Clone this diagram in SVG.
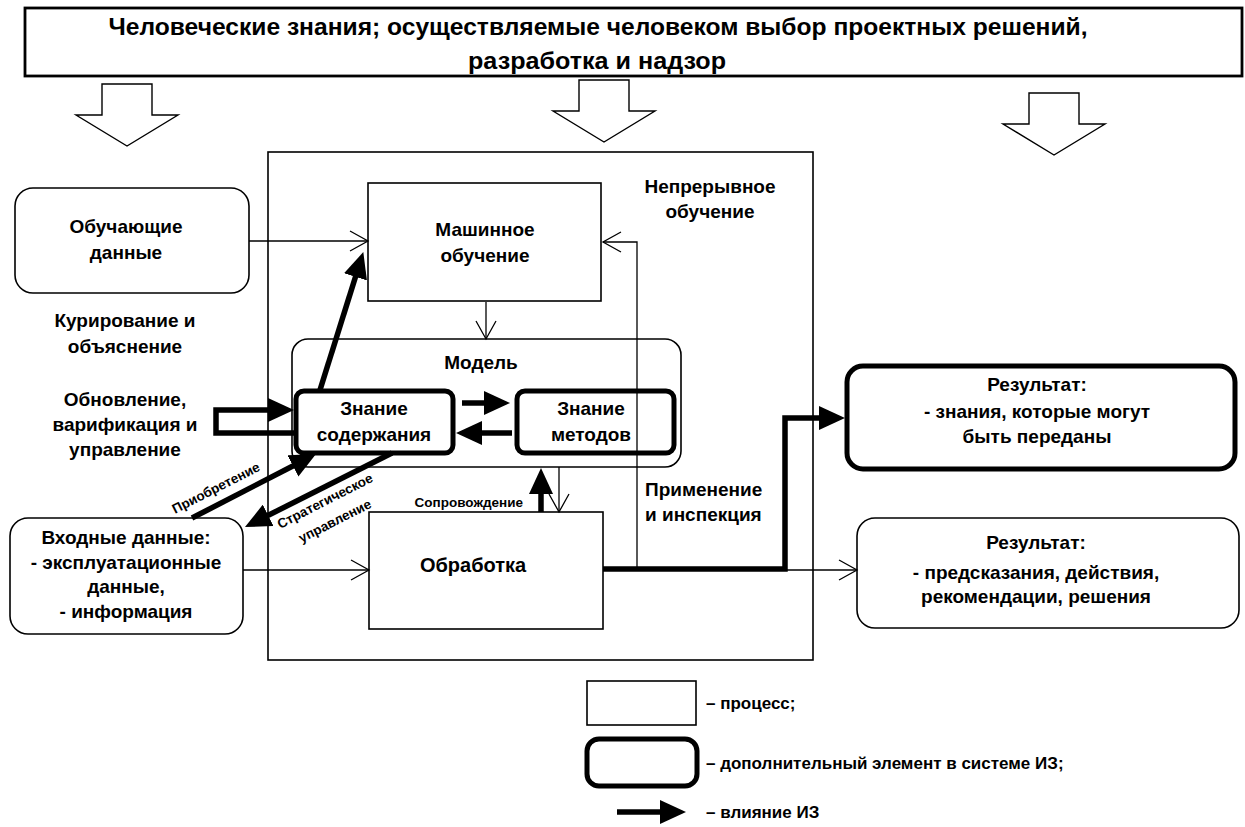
<svg xmlns="http://www.w3.org/2000/svg" width="1245" height="827" viewBox="0 0 1245 827">
<style>
text{font-family:"Liberation Sans",Arial,sans-serif;fill:#000}
.t{font-size:19px;font-weight:bold;text-anchor:middle}
.s{font-size:13.5px;font-weight:bold;text-anchor:middle}
.lg{font-size:17px;font-weight:bold}
.hd{font-size:24px;font-weight:bold;text-anchor:middle}
.box{fill:#fff;stroke:#000;stroke-width:1.6}
.thk{fill:#fff;stroke:#000;stroke-width:5}
.ln{fill:none;stroke:#000;stroke-width:1.3}
.tk{fill:none;stroke:#000;stroke-width:5.5;stroke-linejoin:miter}
.hol{fill:#fff;stroke:#000;stroke-width:1.4}
</style>
<defs>
<marker id="open" viewBox="-20 -11 22 22" refX="0" refY="0" markerWidth="22" markerHeight="22" markerUnits="userSpaceOnUse" orient="auto"><path d="M-18,-10 L0,0 L-18,10" fill="none" stroke="#000" stroke-width="1.3"/></marker>
<marker id="fill" viewBox="0 0 26 24" refX="1" refY="12" markerWidth="26" markerHeight="24" markerUnits="userSpaceOnUse" orient="auto"><path d="M0,0 L26,12 L0,24 z" fill="#000"/></marker>
<polygon id="hollow" class="hol" points="-25,0 25,0 25,31 51,31 0,62 -51,31 -25,31"/>
</defs>
<rect width="1245" height="827" fill="#fff"/>

<g id="top">
<rect x="25" y="8" width="1217" height="68" fill="#fff" stroke="#000" stroke-width="2.8"/>
<text class="hd" x="598" y="35" textLength="979" lengthAdjust="spacingAndGlyphs">Человеческие знания; осуществляемые человеком выбор проектных решений,</text>
<text class="hd" x="597" y="69" textLength="258" lengthAdjust="spacingAndGlyphs">разработка и надзор</text>
</g>
<g id="hollow-arrows">
<use href="#hollow" x="127" y="84"/>
<use href="#hollow" x="604" y="80"/>
<use href="#hollow" x="1054" y="93"/>
</g>

<g id="container">
<rect class="box" x="268" y="152" width="545" height="508" stroke-width="1.4"/>
<text class="t" x="710" y="193">Непрерывное</text>
<text class="t" x="710" y="218">обучение</text>
<text class="t" x="645" y="496" style="text-anchor:start">Применение</text>
<text class="t" x="645" y="521" style="text-anchor:start">и инспекция</text>
</g>

<g id="training">
<rect class="box" x="15" y="188" width="234" height="105" rx="18"/>
<text class="t" x="126" y="233">Обучающие</text>
<text class="t" x="126" y="259">данные</text>
</g>

<g id="curation">
<text class="t" x="125" y="327">Курирование и</text>
<text class="t" x="125" y="353">объяснение</text>
</g>

<g id="update">
<text class="t" x="125" y="406">Обновление,</text>
<text class="t" x="125" y="431">варификация и</text>
<text class="t" x="125" y="456">управление</text>
</g>

<g id="ml">
<rect class="box" x="368" y="183" width="233" height="118" stroke-width="1.8"/>
<text class="t" x="485" y="236">Машинное</text>
<text class="t" x="485" y="262">обучение</text>
</g>

<g id="model">
<rect class="box" x="292" y="339" width="389" height="128" rx="16" stroke-width="1.3"/>
<text class="t" x="481" y="369">Модель</text>
</g>

<g id="content-knowledge">
<rect class="thk" x="296" y="391" width="157" height="62" rx="8"/>
<text class="t" x="374" y="415">Знание</text>
<text class="t" x="374" y="441">содержания</text>
</g>

<g id="method-knowledge">
<rect class="thk" x="517" y="391" width="157" height="62" rx="8"/>
<text class="t" x="591" y="415">Знание</text>
<text class="t" x="591" y="441">методов</text>
</g>

<g id="input">
<rect class="box" x="10" y="518" width="233" height="116" rx="18"/>
<text class="t" x="126" y="544">Входные данные:</text>
<text class="t" x="126" y="569">- эксплуатационные</text>
<text class="t" x="126" y="593">данные,</text>
<text class="t" x="126" y="618">- информация</text>
</g>

<g id="processing">
<rect class="box" x="369" y="512" width="234" height="117" stroke-width="1.8"/>
<text class="t" x="473" y="572" style="font-size:20px">Обработка</text>
</g>

<g id="result1">
<rect class="thk" x="847" y="366" width="388" height="103" rx="16"/>
<text class="t" x="1037" y="391">Результат:</text>
<text class="t" x="1037" y="418">- знания, которые могут</text>
<text class="t" x="1037" y="443">быть переданы</text>
</g>

<g id="result2">
<rect class="box" x="857" y="518" width="382" height="110" rx="18"/>
<text class="t" x="1036" y="549">Результат:</text>
<text class="t" x="1036" y="579">- предсказания, действия,</text>
<text class="t" x="1036" y="603">рекомендации, решения</text>
</g>

<g id="connectors">
<path class="ln" d="M249,241 H368" marker-end="url(#open)"/>
<path class="ln" d="M637,569 V242 H603" marker-end="url(#open)"/>
<path class="ln" d="M486,302 V339" marker-end="url(#open)"/>
<path class="ln" d="M559,467 V512" marker-end="url(#open)"/>
<path class="ln" d="M243,570 H369" marker-end="url(#open)"/>
<path class="ln" d="M603,570 H857" marker-end="url(#open)"/>

<path class="tk" d="M603,569 H785 V418 H820" marker-end="url(#fill)"/>
<path class="tk" d="M320,390 L355.8,275.9" marker-end="url(#fill)"/>
<path class="tk" d="M296,433 H216 V410 H269" marker-end="url(#fill)"/>
<path class="tk" d="M462,403 H485" marker-end="url(#fill)"/>
<path class="tk" d="M512,433 H481" marker-end="url(#fill)"/>
<path class="tk" d="M192,518 L293.8,465.5" marker-end="url(#fill)"/>
<path class="tk" d="M392,453 L267.3,515.8" marker-end="url(#fill)"/>
<path class="tk" d="M541,512 V493" marker-end="url(#fill)"/>

<text class="s" x="218" y="492" transform="rotate(-27 218 492)">Приобретение</text>
<text class="s" x="327" y="505" transform="rotate(-27 327 505)">Стратегическое</text>
<text class="s" x="337" y="525" transform="rotate(-27 337 525)">управление</text>
<text class="s" x="523" y="507" style="text-anchor:end">Сопровождение</text>
</g>

<g id="legend">
<rect class="box" x="587" y="681" width="109" height="44" stroke-width="1.4"/>
<text class="lg" x="706" y="709">– процесс;</text>
<rect class="thk" x="587" y="739" width="110" height="47" rx="12"/>
<text class="lg" x="706" y="769">– дополнительный элемент в системе ИЗ;</text>
<path class="tk" d="M617,812 H661" marker-end="url(#fill)"/>
<text class="lg" x="706" y="818">– влияние ИЗ</text>
</g>
</svg>
